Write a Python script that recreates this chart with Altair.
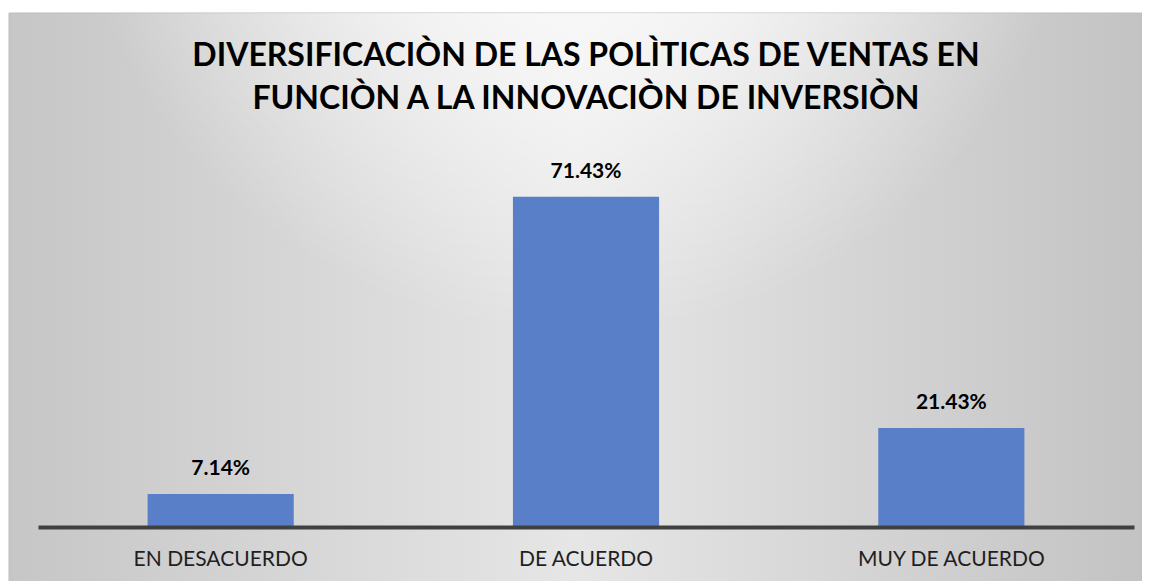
import altair as alt
import pandas as pd

# ---- data ----
categories = ["EN DESACUERDO", "DE ACUERDO", "MUY DE ACUERDO"]
shares = [0.0714, 0.7143, 0.2143]
title_lines = [
    "DIVERSIFICACIÒN DE LAS POLÌTICAS DE VENTAS EN",
    "FUNCIÒN A LA INNOVACIÒN DE INVERSIÒN",
]

df = pd.DataFrame({"cat": categories, "share": shares})
bg_df = pd.DataFrame({"k": [0]})

W, H = 1096, 370
PAD = {"left": 30, "top": 149, "right": 8, "bottom": 54}

bg_linear = alt.LinearGradient(
    gradient="linear",
    x1=0, x2=1, y1=0, y2=0,
    stops=[
        alt.GradientStop(color="#c6c6c6", offset=0),
        alt.GradientStop(color="#e6e6e6", offset=0.5),
        alt.GradientStop(color="#c3c3c3", offset=1),
    ],
)
bg_glow = alt.RadialGradient(
    gradient="radial",
    x1=0.5, y1=0.08, r1=0,
    x2=0.5, y2=0.08, r2=0.45,
    stops=[
        alt.GradientStop(color="rgba(255,255,255,1)", offset=0),
        alt.GradientStop(color="rgba(255,255,255,0.6)", offset=0.5),
        alt.GradientStop(color="rgba(255,255,255,0)", offset=1),
    ],
)

bg_enc = dict(
    x=alt.value(-PAD["left"] + 1),
    x2=alt.value(W + PAD["right"]),
    y=alt.value(-PAD["top"] + 5),
    y2=alt.value(H + PAD["bottom"] + 5),
)
bg = alt.Chart(bg_df).mark_rect(color=bg_linear, stroke="#bdbdbd", strokeWidth=1).encode(**bg_enc)
glow = alt.Chart(bg_df).mark_rect(color=bg_glow).encode(**bg_enc)

x_enc = alt.X(
    "cat:N",
    sort=categories,
    scale=alt.Scale(paddingInner=0.6, paddingOuter=0.3),
    axis=alt.Axis(
        title=None,
        labelAngle=0,
        labelFont="Lato",
        labelFontSize=21,
        labelColor="#1f1f1f",
        labelPadding=21,
        labelLimit=0,
        ticks=False,
        tickSize=0,
        grid=False,
        domainColor="#404040",
        domainWidth=4,
        zindex=1,
    ),
)
y_enc = alt.Y("share:Q", scale=alt.Scale(domain=[0, 0.8]), axis=None)

bars = alt.Chart(df).mark_bar(color="#5A7FC9").encode(x=x_enc, y=y_enc)
labels = alt.Chart(df).mark_text(
    dy=-19, baseline="alphabetic", font="Lato", fontSize=21, fontWeight="bold", color="#000000"
).encode(x=x_enc, y=y_enc, text=alt.Text("share:Q", format=".2%"))

chart = alt.layer(bg, glow, bars, labels).properties(
    width=W,
    height=H,
    padding=PAD,
    autosize=alt.AutoSizeParams(type="none"),
    title=alt.TitleParams(
        text=title_lines,
        font="Lato",
        fontSize=32,
        fontWeight="bold",
        color="#000000",
        anchor="middle",
        lineHeight=43,
        offset=-103,
    ),
).configure_view(stroke=None)

chart.save("out.html", embed_options={"renderer": "svg", "actions": False})
